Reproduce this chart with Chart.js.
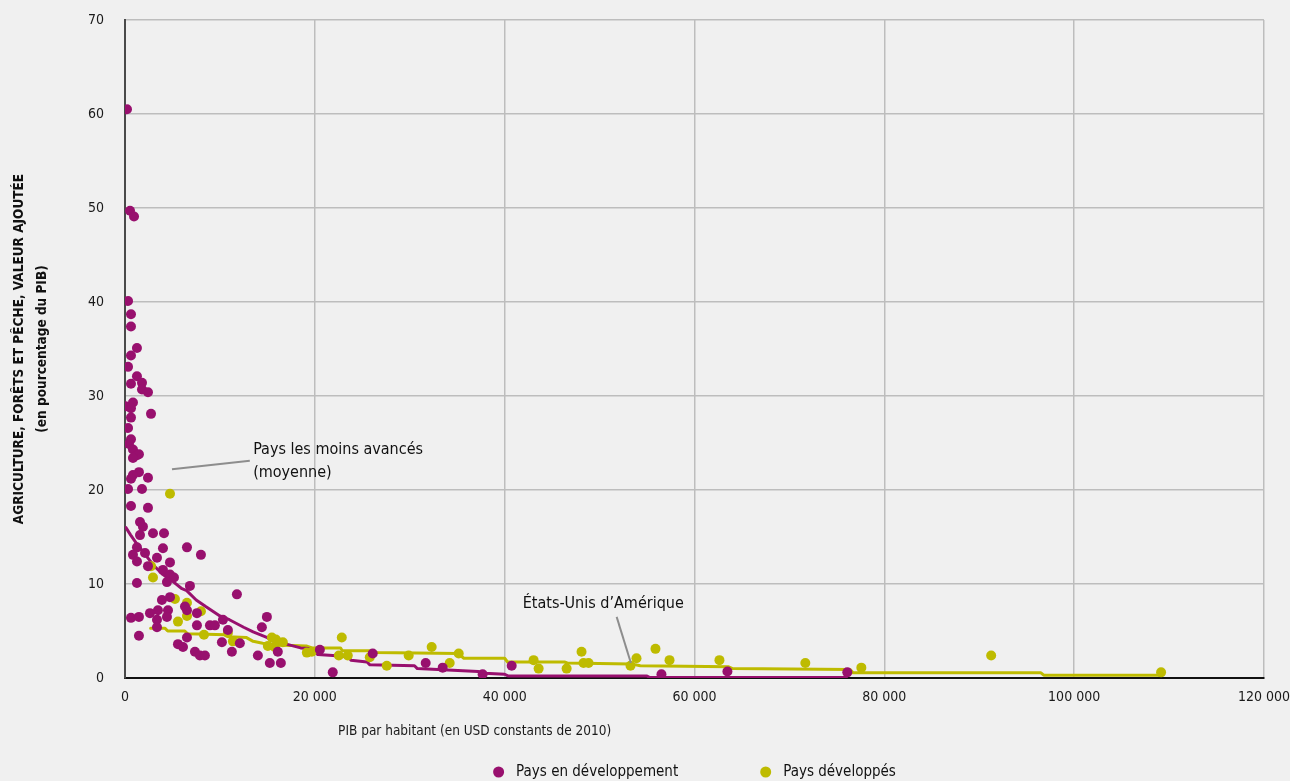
<!DOCTYPE html>
<html>
<head>
<meta charset="utf-8">
<script src="https://cdn.jsdelivr.net/npm/chart.js@4.4.1/dist/chart.umd.min.js"></script>
<style>
  html, body { margin: 0; padding: 0; background: #f0f0f0; }
  canvas { display: block; }
</style>
</head>
<body>
<canvas id="chart" width="1290" height="781"></canvas>
<script>
// Pays en développement : PIB par habitant (USD 2010) et part de l'agriculture (% du PIB)
const devX = [210, 530, 950, 320, 630, 630, 1260, 630, 320, 1260, 630, 1790, 1790, 2420, 50, 840, 630, 2740, 630, 320,
  630, 420, 840, 1260, 1470, 840, 1470, 840, 630, 2420, 320, 1790, 630, 2420, 1580, 1890, 2950, 4110, 1580, 1260,
  4000, 6530, 840, 1260, 2110, 3370, 8000, 4740, 2420, 4000, 4740, 5160, 4420, 1260, 6840, 11790, 3890, 4740, 6320, 4530,
  3470, 2630, 7580, 6530, 630, 1470, 4420, 3370, 3370, 7580, 8950, 9470, 10320, 10840, 1470, 6530, 10210, 12100, 5580, 6110,
  11260, 7370, 7890, 8420, 14950, 14420, 14000, 15260, 16420, 16100, 21890, 20530, 26100, 31680, 33470, 37680, 40740, 56520, 63470, 76100];
const devY = [60.5, 49.7, 49.1, 40.1, 38.7, 37.4, 35.1, 34.3, 33.1, 32.1, 31.3, 31.4, 30.7, 30.4, 28.9, 29.3, 28.7, 28.1, 27.7, 26.6,
  25.4, 24.9, 24.3, 23.7, 23.8, 23.4, 21.9, 21.6, 21.2, 21.3, 20.1, 20.1, 18.3, 18.1, 16.6, 16.1, 15.4, 15.4, 15.2, 13.9,
  13.8, 13.9, 13.1, 12.4, 13.3, 12.8, 13.1, 12.3, 11.9, 11.5, 11.0, 10.7, 10.2, 10.1, 9.8, 8.9, 8.3, 8.6, 7.6, 7.2,
  7.2, 6.9, 6.9, 7.2, 6.4, 6.5, 6.5, 6.2, 5.4, 5.6, 5.6, 5.6, 6.2, 5.1, 4.5, 4.3, 3.8, 3.7, 3.6, 3.3,
  2.8, 2.8, 2.4, 2.4, 6.5, 5.4, 2.4, 1.6, 1.6, 2.8, 0.6, 3.0, 2.6, 1.6, 1.1, 0.4, 1.3, 0.4, 0.7, 0.6];

// Pays développés
const dvdX = [4740, 2740, 2950, 5260, 6530, 8000, 5580, 6530, 8320, 10840, 11370, 15470, 15790, 16630, 15050, 15900, 19160, 19680,
  22840, 22530, 23470, 25790, 27580, 29890, 32310, 34210, 35160, 43050, 43580, 46530, 48100, 48310, 48840, 53260, 53890,
  55890, 57370, 62630, 71680, 77580, 91260, 109160];
const dvdY = [19.6, 11.9, 10.7, 8.4, 8.0, 7.1, 6.0, 6.6, 4.6, 4.8, 3.9, 4.3, 3.3, 3.8, 3.4, 4.1, 2.7, 2.8,
  4.3, 2.4, 2.4, 2.2, 1.3, 2.4, 3.3, 1.6, 2.6, 1.9, 1.0, 1.0, 2.8, 1.6, 1.6, 1.3, 2.1,
  3.1, 1.9, 1.9, 1.6, 1.1, 2.4, 0.6];

// Courbes de tendance (valeurs ajustées, triées par PIB par habitant)
const trendDevX = [100, 600, 1300, 2000, 3000, 4000, 5000, 6000, 6500, 7500, 8500, 10000, 11000, 12500, 13500, 15000, 16000,
  17000, 18500, 19800, 20300, 23500, 23800, 25500, 25800, 30500, 30800, 37200, 37900, 40000, 40400, 55000, 55300, 76000];
const trendDevY = [16.0, 15.2, 14.2, 13.3, 12.0, 11.0, 10.3, 9.5, 9.3, 8.3, 7.6, 6.6, 6.2, 5.4, 4.9, 4.3, 3.8,
  3.6, 3.2, 3.1, 2.5, 2.3, 1.9, 1.7, 1.4, 1.3, 1.0, 0.7, 0.5, 0.4, 0.2, 0.2, 0.05, 0.05];
const trendDvdX = [2700, 4200, 4500, 6300, 6600, 10600, 10900, 12800, 13500, 14500, 16000, 19100, 19700, 22700, 22900,
  26000, 26300, 35100, 35700, 40000, 40300, 46300, 46600, 53300, 54300, 63600, 64000, 76400, 76700, 96500, 96800, 109200];
const trendDvdY = [5.3, 5.3, 5.0, 5.0, 4.7, 4.6, 4.4, 4.3, 3.9, 3.7, 3.5, 3.4, 3.2, 3.2, 2.9,
  2.9, 2.7, 2.6, 2.1, 2.1, 1.7, 1.7, 1.6, 1.5, 1.3, 1.2, 1.0, 0.9, 0.55, 0.55, 0.3, 0.3];

// Graduations
const xTickValues = [0, 20000, 40000, 60000, 80000, 100000, 120000];
const xTickLabels = ['0', '20 000', '40 000', '60 000', '80 000', '100 000', '120 000'];
const yTickValues = [0, 10, 20, 30, 40, 50, 60, 70];
const yTickLabels = ['0', '10', '20', '30', '40', '50', '60', '70'];

// Libellés
const seriesNames = ['Pays en développement', 'Pays développés'];
const xTitle = 'PIB par habitant (en USD constants de 2010)';
const yTitle = ['AGRICULTURE, FORÊTS ET PÊCHE, VALEUR AJOUTÉE', '(en pourcentage du PIB)'];
const notes = [
  { lines: ['Pays les moins avancés', '(moyenne)'], x: 13500, y: 24.3, from: [4950, 22.2], to: [13150, 23.1] },
  { lines: ['États-Unis d’Amérique'], x: 41900, y: 7.9, from: [51800, 6.5], to: [53300, 1.6] }
];

const PURPLE = '#98106e';
const YELLOW = '#bebb00';
const FONT = "'Liberation Sans Narrow', 'DejaVu Sans Condensed', 'Roboto Condensed', sans-serif";
Chart.defaults.font.family = FONT;
Chart.defaults.color = '#1a1a1a';

const pairs = (xs, ys) => xs.map((x, i) => ({ x, y: ys[i] }));

// Titre de l'axe horizontal, annotations avec traits de rappel, légende en pied
const textLayer = {
  id: 'textLayer',
  afterDraw(chart) {
    const { ctx, chartArea, scales: { x, y } } = chart;
    ctx.save();
    ctx.strokeStyle = '#8d8d8d';
    ctx.lineWidth = 2;
    ctx.fillStyle = '#111';
    ctx.font = '500 16px ' + FONT;
    ctx.textBaseline = 'middle';
    ctx.textAlign = 'left';
    notes.forEach(n => {
      ctx.beginPath();
      ctx.moveTo(x.getPixelForValue(n.from[0]), y.getPixelForValue(n.from[1]));
      ctx.lineTo(x.getPixelForValue(n.to[0]), y.getPixelForValue(n.to[1]));
      ctx.stroke();
      n.lines.forEach((t, i) => {
        ctx.fillText(t, x.getPixelForValue(n.x), y.getPixelForValue(n.y) + i * 23);
      });
    });

    ctx.font = '13.5px ' + FONT;
    ctx.textAlign = 'center';
    ctx.fillStyle = '#1a1a1a';
    ctx.fillText(xTitle, chartArea.left + (chartArea.right - chartArea.left) * 0.307, chartArea.bottom + 53);

    // Légende : pastille + nom de chaque série de points
    const items = chart.data.datasets.filter(d => d.type !== 'line');
    ctx.font = '15px ' + FONT;
    ctx.textAlign = 'left';
    const r = 5.5, textGap = 12, itemGap = 82;
    const widths = items.map(d => ctx.measureText(d.label).width);
    const total = widths.reduce((s, w) => s + 2 * r + textGap + w, 0) + itemGap * (items.length - 1);
    let cx = (chartArea.left + chartArea.right) / 2 - total / 2;
    const cy = chartArea.bottom + 94;
    items.forEach((d, i) => {
      ctx.fillStyle = d.backgroundColor;
      ctx.beginPath();
      ctx.arc(cx + r, cy, r, 0, Math.PI * 2);
      ctx.fill();
      ctx.fillStyle = '#111';
      ctx.fillText(d.label, cx + 2 * r + textGap, cy);
      cx += 2 * r + textGap + widths[i] + itemGap;
    });
    ctx.restore();
  }
};

new Chart(document.getElementById('chart'), {
  type: 'scatter',
  data: {
    datasets: [
      { label: seriesNames[0], data: pairs(devX, devY), backgroundColor: PURPLE, borderColor: PURPLE,
        pointRadius: 5, pointHoverRadius: 5, borderWidth: 0, pointStyle: 'circle', order: 1 },
      { label: seriesNames[1], data: pairs(dvdX, dvdY), backgroundColor: YELLOW, borderColor: YELLOW,
        pointRadius: 5, pointHoverRadius: 5, borderWidth: 0, pointStyle: 'circle', order: 2 },
      { label: 'trendDev', type: 'line', data: pairs(trendDevX, trendDevY), borderColor: PURPLE, borderWidth: 3,
        pointRadius: 0, tension: 0, fill: false, borderJoinStyle: 'round', borderCapStyle: 'round', order: 3 },
      { label: 'trendDvd', type: 'line', data: pairs(trendDvdX, trendDvdY), borderColor: YELLOW, borderWidth: 3,
        pointRadius: 0, tension: 0, fill: false, borderJoinStyle: 'round', borderCapStyle: 'round', order: 4 }
    ]
  },
  options: {
    responsive: false,
    animation: false,
    events: [],
    layout: { padding: { top: 20, right: 25, bottom: 0, left: 0 } },
    plugins: {
      tooltip: { enabled: false },
      legend: { display: false }
    },
    scales: {
      x: {
        type: 'linear',
        min: 0, max: 120000,
        afterBuildTicks: s => { s.ticks = xTickValues.map(v => ({ value: v })); },
        afterFit: s => { s.height = 103; },
        ticks: { padding: 0, font: { size: 14 }, color: '#1a1a1a', maxRotation: 0, autoSkip: false,
          callback: (v) => xTickLabels[xTickValues.indexOf(v)] },
        grid: { color: '#bdbdbd', lineWidth: 1.5, drawTicks: true, tickLength: 11, tickColor: 'rgba(0,0,0,0)' },
        border: { color: '#111', width: 2 }
      },
      y: {
        min: 0, max: 70,
        afterBuildTicks: s => { s.ticks = yTickValues.map(v => ({ value: v })); },
        afterFit: s => { s.width = 125; },
        ticks: { padding: 0, font: { size: 14 }, color: '#1a1a1a', autoSkip: false,
          callback: (v) => yTickLabels[yTickValues.indexOf(v)] },
        grid: { color: '#bdbdbd', lineWidth: 1.5, drawTicks: true, tickLength: 21, tickColor: 'rgba(0,0,0,0)' },
        border: { color: '#4a4a4a', width: 2 },
        title: { display: true, text: yTitle, font: { size: 13.5, weight: 'bold', lineHeight: 1.7 },
          color: '#111', padding: { top: 8, bottom: 0 } }
      }
    }
  },
  plugins: [textLayer]
});
</script>
</body>
</html>
